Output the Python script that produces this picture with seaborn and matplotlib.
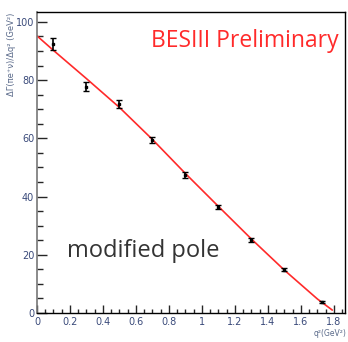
import numpy as np
import pandas as pd
import matplotlib
matplotlib.use("Agg")
import matplotlib.pyplot as plt
import seaborn as sns
from matplotlib.ticker import MultipleLocator, FuncFormatter

# Data
q2_points = [0.1, 0.3, 0.5, 0.7, 0.9, 1.1, 1.3, 1.5, 1.73]
rate_points = [92.4, 77.7, 71.8, 59.5, 47.4, 36.4, 25.1, 14.8, 3.8]
rate_errors = [2.0, 1.5, 1.4, 1.0, 1.0, 0.8, 0.7, 0.5, 0.4]

fit_q2 = [0.0, 0.1, 0.3, 0.5, 0.7, 0.9, 1.1, 1.3, 1.5, 1.7, 1.79]
fit_rate = [95.2, 90.2, 80.5, 70.6, 59.6, 47.9, 36.6, 25.4, 14.7, 4.8, 1.0]

label_text = "BESIII Preliminary"
model_text = "modified pole"
y_label = "ΔΓ(πe⁺ν)/Δq² (GeV²)"
x_label = "q²(GeV²)"

sns.set_style("white")
plt.rcParams['font.family'] = ['DejaVu Sans']

fig = plt.figure(figsize=(3.48, 3.42), dpi=100)
ax = fig.add_axes([37/348, 1-313/342, (345-37)/348, (313-12)/342])

fit_df = pd.DataFrame({"q2": fit_q2, "rate": fit_rate})
sns.lineplot(data=fit_df, x="q2", y="rate", ax=ax, color="#ff2a2a", lw=1.2)

pts_df = pd.DataFrame({"q2": q2_points, "rate": rate_points, "err": rate_errors})
ax.errorbar(pts_df["q2"], pts_df["rate"], yerr=pts_df["err"], fmt="s", ms=2,
            color="black", ecolor="black", elinewidth=1.2, capsize=2, capthick=1, zorder=3)

ax.set_xlim(0, 1.867)
ax.set_ylim(0, 103.4)
ax.set_xlabel("")
ax.set_ylabel("")

ax.xaxis.set_major_locator(MultipleLocator(0.2))
ax.xaxis.set_minor_locator(MultipleLocator(0.05))
ax.yaxis.set_major_locator(MultipleLocator(20))
ax.yaxis.set_minor_locator(MultipleLocator(5))

def xfmt(v, p):
    if abs(v - round(v)) < 1e-9:
        return f"{int(round(v))}"
    return f"{v:.1f}"
ax.xaxis.set_major_formatter(FuncFormatter(xfmt))
ax.yaxis.set_major_formatter(FuncFormatter(lambda v, p: f"{int(round(v))}"))

tick_col = "#3a4a7a"
ax.tick_params(axis="x", which="major", direction="in", length=6, width=1, labelsize=7, labelcolor=tick_col, pad=3, bottom=True)
ax.tick_params(axis="x", which="minor", direction="in", length=3, width=1, bottom=True)
ax.tick_params(axis="y", which="major", direction="in", length=7, width=1, labelsize=7, labelcolor=tick_col, pad=2, left=True)
ax.tick_params(axis="y", which="minor", direction="in", length=4.5, width=1, left=True)

for s in ["top", "right", "bottom"]:
    ax.spines[s].set_color("black")
    ax.spines[s].set_linewidth(1.0)
ax.spines["left"].set_color("#777777")
ax.spines["left"].set_linewidth(1.2)

ax.text(0.98, 0.905, label_text, transform=ax.transAxes, ha="right", va="center",
        color="#ff2a2a", fontsize=16.5, family="Open Sans")
ax.text(0.098, 0.205, model_text, transform=ax.transAxes, ha="left", va="center",
        color="#333333", fontsize=17, family="Open Sans")

fig.text(11/348, 1-13/342, y_label, rotation=90, ha="center", va="top",
         fontsize=6, color="#5a6a8a")
fig.text(346/348, 1-333/342, x_label, ha="right", va="center",
         fontsize=5.5, color="#5a6a8a")

fig.savefig("out.png", dpi=100)
